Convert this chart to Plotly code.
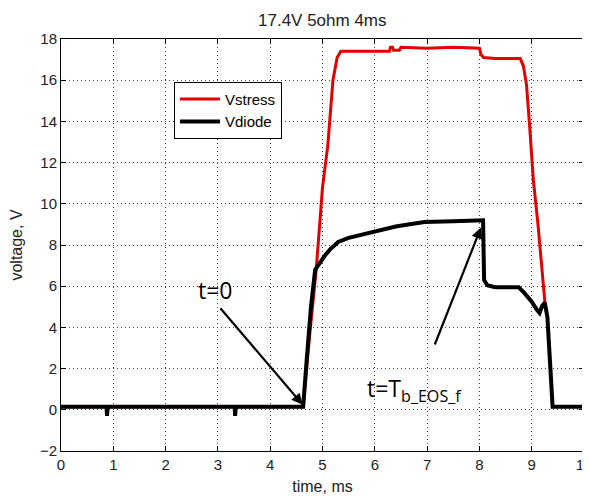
import plotly.graph_objects as go

# ---- data ----
t_stress = [0.0, 0.88, 0.9, 3.35, 4.63, 4.75, 4.88, 5.0, 5.1, 5.2, 5.28, 5.35, 5.6, 6.0, 6.28, 6.3, 6.34,
            6.36, 6.47, 6.5, 7.0, 7.5, 8.0, 8.03, 8.08, 8.3, 8.6, 8.78, 8.84, 8.9, 8.96, 9.03, 9.12,
            9.22, 9.26]
v_stress = [0.15, 0.15, 0.15, 0.15, 0.15, 3.5, 6.8, 10.8, 12.8, 16.0, 17.1, 17.4, 17.4, 17.4, 17.4, 17.6, 17.6,
            17.45, 17.45, 17.6, 17.55, 17.6, 17.55, 17.25, 17.1, 17.05, 17.05, 17.05, 16.7, 15.8, 13.8, 11.2, 9.0,
            6.3, 5.0]

t_diode = [0.0, 0.87, 0.88, 0.89, 3.32, 3.33, 3.34, 4.63, 4.7, 4.78, 4.86, 4.95, 5.05, 5.15, 5.3,
           5.5, 5.8, 6.1, 6.4, 6.7, 6.95, 7.5, 8.0, 8.07, 8.09, 8.15, 8.3, 8.75, 8.85, 9.0,
           9.1, 9.15, 9.2, 9.25, 9.3, 9.35, 9.4, 10.0]
v_diode = [0.15, 0.15, -0.3, 0.15, 0.15, -0.3, 0.15, 0.15, 2.5, 5.0, 6.8, 7.15, 7.5, 7.8, 8.15,
           8.35, 8.55, 8.75, 8.9, 9.02, 9.12, 9.15, 9.2, 9.2, 6.3, 6.05, 5.95, 5.95, 5.7, 5.25,
           4.85, 4.7, 5.05, 5.2, 4.5, 2.0, 0.15, 0.15]

series_names = ["Vstress", "Vdiode"]
title_text = "17.4V 5ohm 4ms"
x_label = "time, ms"
y_label = "voltage, V"
x_ticks = [0, 1, 2, 3, 4, 5, 6, 7, 8, 9, 10]
y_ticks = [-2, 0, 2, 4, 6, 8, 10, 12, 14, 16, 18]

# annotation anchors in data units: (tip_t, tip_v, tail_t, tail_v)
arrow_t0 = (4.62, 0.25, 2.99, 5.1)
arrow_tb = (8.03, 8.85, 7.09, 2.8)
label_t0 = (2.96, 5.8)
label_tb = (5.82, 1.0)

FONT = "Liberation Sans, Arial, sans-serif"

fig = go.Figure()
fig.add_trace(go.Scatter(x=t_stress, y=v_stress, mode="lines", name=series_names[0],
                         line=dict(color="#e30000", width=3)))
fig.add_trace(go.Scatter(x=t_diode, y=v_diode, mode="lines", name=series_names[1],
                         line=dict(color="#000000", width=4)))

ann_font = dict(family="Open Sans, Noto Sans, sans-serif", size=23, color="#000")
for tip in (arrow_t0, arrow_tb):
    fig.add_annotation(x=tip[0], y=tip[1], ax=tip[2], ay=tip[3], xref="x", yref="y",
                       axref="x", ayref="y", text=" ", showarrow=True, arrowhead=2,
                       arrowsize=1.0, arrowwidth=2.2, arrowcolor="#000")
fig.add_annotation(x=label_t0[0], y=label_t0[1], xref="x", yref="y", text="t=0",
                   showarrow=False, font=ann_font, xanchor="center", yanchor="middle")
fig.add_annotation(x=label_tb[0], y=label_tb[1], xref="x", yref="y",
                   text="t=T<sub>b_EOS_f</sub>", showarrow=False, font=ann_font,
                   xanchor="left", yanchor="middle")

axis_common = dict(showline=True, linecolor="#000", linewidth=1, mirror="ticks",
                   ticks="inside", ticklen=5, tickcolor="#000",
                   showgrid=True, gridcolor="#444", griddash="1px,3px", gridwidth=1,
                   zeroline=False, automargin=False, ticklabeloverflow="allow",
                   tickfont=dict(family=FONT, size=15, color="#222"))

# the page body has an 8px margin, so the figure is 8px smaller than the window
fig.update_layout(
    width=582, height=489,
    margin=dict(l=53, r=6, t=31, b=46),
    paper_bgcolor="white", plot_bgcolor="white",
    title=dict(text=title_text, x=0.54, xanchor="center", y=0.975, yanchor="middle",
               font=dict(family=FONT, size=17, color="#222")),
    showlegend=True,
    legend=dict(x=0.216, y=0.896, xanchor="left", yanchor="top",
                bgcolor="white", bordercolor="#000", borderwidth=1,
                font=dict(family=FONT, size=15, color="#000"),
                tracegroupgap=0, itemwidth=40),
    xaxis=dict(range=[0, 10], tickvals=x_ticks,
               title=dict(text=x_label, standoff=8,
                          font=dict(family=FONT, size=16, color="#222")),
               **axis_common),
    yaxis=dict(range=[-2, 18], tickvals=y_ticks,
               title=dict(text=y_label, standoff=13,
                          font=dict(family=FONT, size=16, color="#222")),
               **axis_common),
)

fig.write_html("out.html")
